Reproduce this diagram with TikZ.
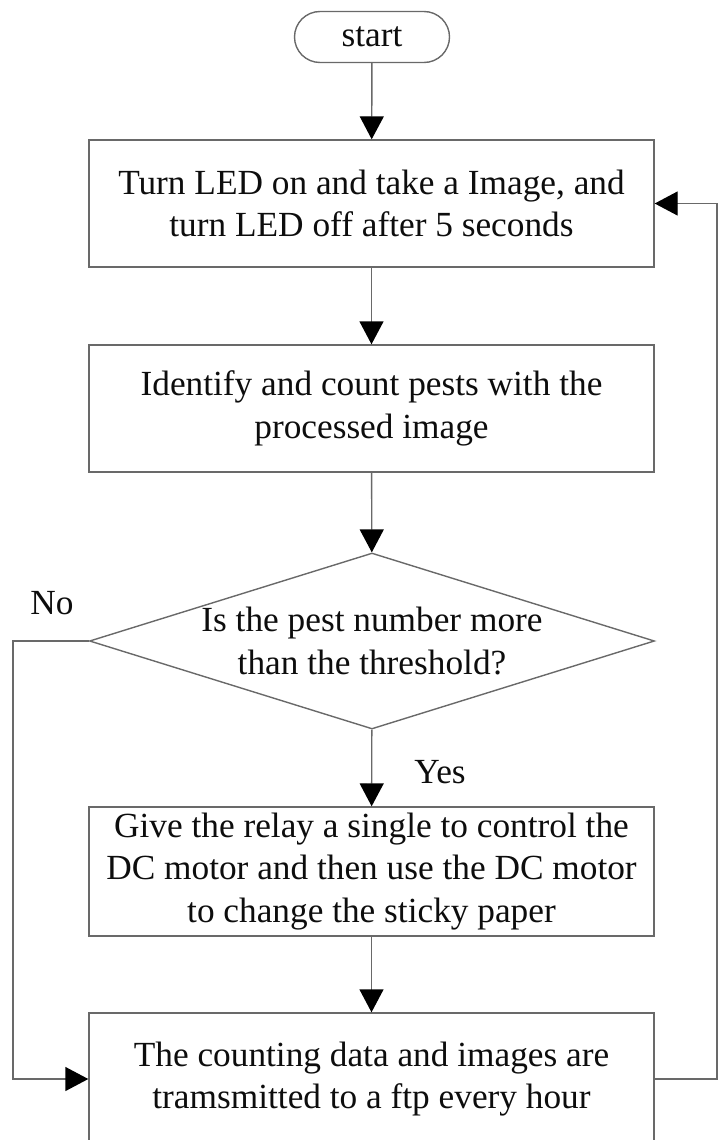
\documentclass[tikz,border=0pt]{standalone}
\usepackage{fontspec}
\setmainfont{Liberation Serif}
\usetikzlibrary{arrows.meta,shapes.geometric,shapes.misc}
\begin{document}
\begin{tikzpicture}[x=1pt,y=-1pt,
  every node/.style={font=\fontsize{35.3}{42.5}\selectfont, text=black!95},
  lineclr/.style={draw={rgb,255:red,105;green,105;blue,105}, line width=1.4pt},
  procbox/.style={lineclr, rectangle, minimum width=565pt, minimum height=127pt, align=center, inner sep=0pt},
  termbox/.style={lineclr, rounded rectangle, minimum width=155pt, minimum height=51pt, inner sep=0pt},
  decbox/.style={lineclr, diamond, minimum width=565pt, minimum height=176pt, inner sep=0pt},
  txt/.style={align=center, inner sep=0pt},
  arr/.style={lineclr, -{Triangle[width=24pt,length=23pt,color=black]}}]
\useasboundingbox (0,0) rectangle (720,1140);
\node[termbox] (start) at (372,37) {start};
\node[procbox] (b1) at (371.5,203.5) {Turn LED on and take a Image, and\\turn LED off after 5 seconds};
\node[procbox] (b2) at (371.5,408.5) {Identify and count pests with the\\processed image};
\node[decbox] (dec) at (372,641) {};
\node[txt] (dect) at (dec.center) {Is the pest number more\\than the threshold?};
\node[procbox, minimum height=129pt] (b3) at (371.5,871.5) {Give the relay a single to control the\\DC motor and then use the DC motor\\to change the sticky paper};
\node[procbox, minimum height=132pt] (b4) at (371.5,1079) {The counting data and images are\\tramsmitted to a ftp every hour};
\node[txt] (no) at (52,603) {No};
\node[txt] (yes) at (440,772) {Yes};
\coordinate (nl) at (13,641);
\coordinate (rc) at (717,203.5);
\draw[arr] (start) -- (b1);
\draw[arr] (b1) -- (b2);
\draw[arr] (b2) -- (dec);
\draw[arr] (dec) -- (b3);
\draw[arr] (b3) -- (b4);
\draw[arr] (dec.west) -- (nl) |- (b4.west);
\draw[arr] (b4.east) -- (b4.east -| rc) -- (rc) -- (b1.east);
\end{tikzpicture}
\end{document}
